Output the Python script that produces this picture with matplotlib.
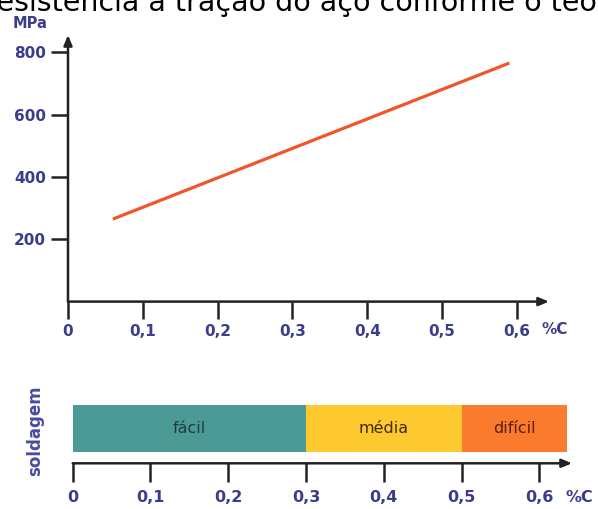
import matplotlib
matplotlib.use("Agg")
import matplotlib.pyplot as plt

# resistance line (MPa vs %C)
carbon = [0.06, 0.59]
strength = [265, 766]
top_xticks = [0, 0.1, 0.2, 0.3, 0.4, 0.5, 0.6]
top_xlabels = ["0", "0,1", "0,2", "0,3", "0,4", "0,5", "0,6"]
top_yticks = [200, 400, 600, 800]

# weldability bands
weld_labels = ["fácil", "média", "difícil"]
weld_start = [0.0, 0.3, 0.5]
weld_end = [0.3, 0.5, 0.635]
weld_colors = ["#4b9a96", "#fdc92f", "#fb7b2e"]
weld_text_colors = ["#1f3f3d", "#3d2c05", "#5a1f0c"]

LABEL = "#3b3d8c"
AXIS = "#222222"

plt.rcParams["font.family"] = ["DejaVu Sans"]

fig = plt.figure(figsize=(5.98, 5.09), dpi=100)

# title is cut off at the top edge in the source image
fig.text(-0.036, 1 - 11 / 509, "Resistência à tração do aço conforme o teor de carbono",
         fontsize=20.5, color="black", va="baseline", ha="left")


def arrow_axes(ax, with_y):
    for s in ax.spines.values():
        s.set_visible(False)
    ax.annotate("", xy=(1, 0), xytext=(0, 0), xycoords="axes fraction",
                arrowprops=dict(arrowstyle="-|>,head_length=0.6,head_width=0.25",
                                color=AXIS, lw=1.8, shrinkA=0, shrinkB=0))
    if with_y:
        ax.annotate("", xy=(0, 1), xytext=(0, 0), xycoords="axes fraction",
                    arrowprops=dict(arrowstyle="-|>,head_length=0.6,head_width=0.25",
                                    color=AXIS, lw=1.8, shrinkA=0, shrinkB=0))


# top chart
ax = fig.add_axes([68 / 598, (509 - 301.6) / 509, (549 - 68) / 598, (301.6 - 35) / 509])
ax.plot(carbon, strength, color="#f0562b", lw=2.3, solid_capstyle="butt")
ax.set_xlim(0, 0.643)
ax.set_ylim(0, 856)
arrow_axes(ax, True)
ax.set_xticks(top_xticks)
ax.set_xticklabels(top_xlabels)
ax.set_yticks(top_yticks)
ax.set_yticklabels([str(v) for v in top_yticks])
ax.tick_params(axis="both", direction="out", length=12, width=1.8, color=AXIS,
               labelcolor=LABEL, labelsize=11, pad=4)
for lab in ax.get_xticklabels() + ax.get_yticklabels():
    lab.set_fontweight("bold")
ax.text(30 / 598, (509 - 23) / 509, "MPa", transform=fig.transFigure, ha="center",
        va="center", color=LABEL, fontsize=10.5, fontweight="bold")
ax.text(555 / 598, (509 - 330) / 509, "%C", transform=fig.transFigure, ha="center",
        va="center", color=LABEL, fontsize=11, fontweight="bold")

# bottom weldability bar
ax2 = fig.add_axes([72.7 / 598, (509 - 463.3) / 509, (572 - 72.7) / 598, 63.3 / 509])
ax2.set_xlim(0, 0.642)
ax2.set_ylim(0, 1)
for lab, x0, x1, c, tc in zip(weld_labels, weld_start, weld_end, weld_colors, weld_text_colors):
    ax2.barh(0.55, x1 - x0, left=x0, height=0.74, color=c, edgecolor="none")
    ax2.text((x0 + x1) / 2, 0.55, lab, ha="center", va="center", color=tc, fontsize=11.5)
arrow_axes(ax2, False)
ax2.set_xticks(top_xticks)
ax2.set_xticklabels(top_xlabels)
ax2.set_yticks([])
ax2.tick_params(axis="x", direction="out", length=14, width=1.8, color=AXIS,
                labelcolor=LABEL, labelsize=11.5, pad=5)
for lab in ax2.get_xticklabels():
    lab.set_fontweight("bold")
ax2.text(579 / 598, (509 - 497) / 509, "%C", transform=fig.transFigure, ha="center",
         va="center", color=LABEL, fontsize=11.5, fontweight="bold")
fig.text(35 / 598, (509 - 431) / 509, "soldagem", rotation=90, ha="center", va="center",
         color="#4a4ba0", fontsize=12, fontweight="bold")

fig.savefig("out.png", dpi=100)
